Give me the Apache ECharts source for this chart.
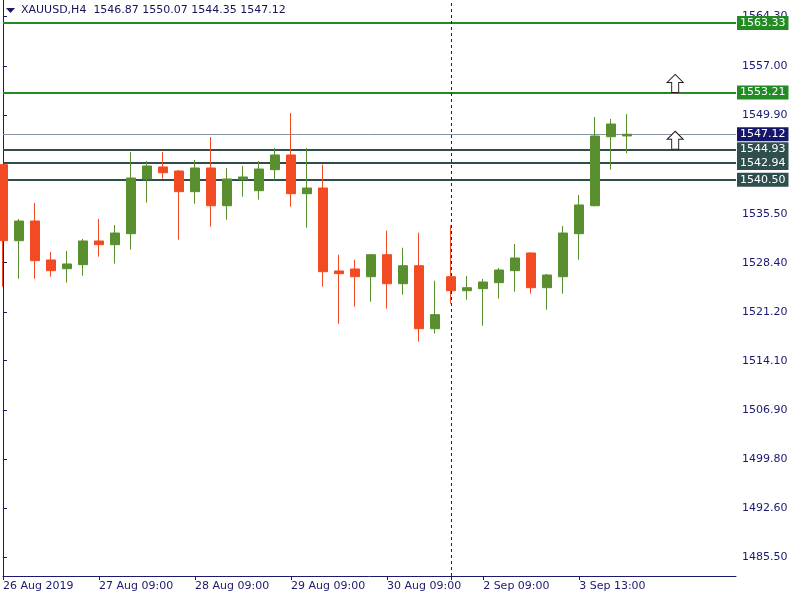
<!DOCTYPE html>
<html>
<head>
<meta charset="utf-8">
<script src="https://cdn.jsdelivr.net/npm/echarts@6/dist/echarts.min.js"></script>
<style>
  html, body { margin: 0; padding: 0; background: #ffffff; }
  #chart { width: 800px; height: 600px; }
</style>
</head>
<body>
<div id="chart"></div>
<script>
// ---- Data ----
const symbolName = 'XAUUSD,H4';
const opens  = [1542.68,1531.60,1534.47,1528.79,1527.52,1528.11,1531.56,1531.02,1532.62,1540.60,
                1542.35,1541.76,1538.75,1542.20,1536.70,1540.55,1538.89,1541.95,1544.10,1538.45,
                1539.28,1527.19,1527.48,1526.35,1529.56,1525.33,1527.96,1518.77,1526.35,1524.31,
                1524.61,1525.48,1527.23,1529.81,1524.75,1526.35,1532.62,1536.70,1546.76,1546.87];
const highs  = [1542.80,1534.77,1537.10,1529.96,1530.10,1531.85,1534.77,1533.89,1544.53,1543.22,
                1544.53,1541.90,1543.37,1546.72,1542.20,1542.49,1543.22,1545.12,1550.22,1545.12,
                1542.68,1529.56,1528.83,1529.60,1533.06,1530.58,1532.77,1525.77,1533.85,1526.46,
                1526.02,1527.62,1531.12,1529.90,1526.75,1533.75,1538.26,1549.63,1549.34,1550.07];
const lows   = [1524.90,1526.06,1526.06,1526.35,1525.48,1526.50,1529.27,1528.25,1530.29,1537.14,
                1540.64,1531.75,1537.00,1533.64,1534.66,1538.02,1537.58,1540.50,1536.56,1533.50,
                1524.90,1519.50,1521.98,1522.71,1521.69,1523.73,1516.88,1518.05,1522.42,1523.00,
                1519.21,1523.15,1524.17,1523.88,1521.54,1523.88,1528.83,1536.60,1541.95,1544.35];
const closes = [1531.60,1534.47,1528.69,1527.23,1528.21,1531.56,1531.02,1532.72,1540.74,1542.49,
                1541.51,1538.75,1542.20,1536.70,1540.60,1540.89,1542.05,1544.10,1538.45,1539.28,
                1527.08,1526.79,1526.35,1529.56,1525.33,1527.96,1518.77,1520.82,1524.31,1524.75,
                1525.58,1527.33,1529.08,1524.75,1526.60,1532.72,1536.81,1546.86,1548.61,1547.12];

const xTickIdx   = [0, 6, 12, 18, 24, 30, 36];
const xTickText  = ['26 Aug 2019', '27 Aug 09:00', '28 Aug 09:00', '29 Aug 09:00', '30 Aug 09:00', '2 Sep 09:00', '3 Sep 13:00'];
const vLineIdx   = 28;
const yTickValues = [1564.30, 1557.00, 1549.90, 1535.50, 1528.40, 1521.20, 1514.10, 1506.90, 1499.80, 1492.60, 1485.50];

const greenLevels = [1563.33, 1553.21];
const slateLevels = [1544.93, 1542.94, 1540.50];
const arrowIdx    = 42;
const arrowPrices = [1553.21, 1544.93];

const yMin = 1482.72, yMax = 1566.69;
const xMin = 0, xMax = 45.8;

// ---- Styles ----
const NAVY = '#191970';
const BULL = '#5a8f2f';
const BEAR = '#f24b23';
const FONT = 'DejaVu Sans';

const n = closes.length;
const candleData = [];
for (let i = 0; i < n; i++) candleData.push([i, opens[i], closes[i], lows[i], highs[i]]);
const lastClose = closes[n - 1];

function boxLabel(bg) {
  return {
    show: true, position: 'end', distance: 1,
    formatter: p => Number(p.value).toFixed(2),
    color: '#ffffff', backgroundColor: bg,
    fontFamily: FONT, fontSize: 11, lineHeight: 12,
    padding: [1, 3, 1, 3]
  };
}

const markLineData = [];
greenLevels.forEach(v => markLineData.push({ yAxis: v, lineStyle: { color: '#238b23', width: 2, type: 'solid' }, label: boxLabel('#238b23') }));
markLineData.push({ yAxis: lastClose, lineStyle: { color: '#8894a0', width: 1, type: 'solid' }, label: boxLabel('#15156a') });
slateLevels.forEach(v => markLineData.push({ yAxis: v, lineStyle: { color: '#2f4f4f', width: 2, type: 'solid' }, label: boxLabel('#2f4f4f') }));
markLineData.push({ xAxis: vLineIdx, lineStyle: { color: NAVY, width: 1, type: [3, 3] }, label: { show: false } });

const chart = echarts.init(document.getElementById('chart'), null, { renderer: 'canvas' });
chart.setOption({
  animation: false,
  backgroundColor: '#ffffff',
  grid: { left: 3, right: 64, top: 0, bottom: 24, containLabel: false },
  xAxis: {
    type: 'value', min: xMin, max: xMax,
    splitLine: { show: false },
    axisLine: { show: true, lineStyle: { color: NAVY, width: 1 } },
    axisTick: { show: true, length: 4, inside: false, lineStyle: { color: NAVY }, customValues: xTickIdx.concat([vLineIdx]) },
    axisLabel: {
      show: true, customValues: xTickIdx, align: 'left', margin: 5,
      color: NAVY, fontFamily: FONT, fontSize: 11,
      formatter: v => { const k = xTickIdx.indexOf(Math.round(v)); return k >= 0 ? xTickText[k] : ''; }
    }
  },
  yAxis: [{
    type: 'value', position: 'right', min: yMin, max: yMax, scale: true,
    splitLine: { show: false },
    axisLine: { show: true, lineStyle: { color: NAVY, width: 1 } },
    axisTick: { show: true, length: 4, inside: false, lineStyle: { color: NAVY }, customValues: yTickValues },
    axisLabel: {
      show: true, customValues: yTickValues, margin: 6, align: 'left',
      color: NAVY, fontFamily: FONT, fontSize: 11,
      formatter: v => Number(v).toFixed(2)
    }
  }, {
    type: 'value', position: 'left', min: yMin, max: yMax, scale: true,
    splitLine: { show: false },
    axisLine: { show: true, lineStyle: { color: NAVY, width: 1 } },
    axisTick: { show: false }, axisLabel: { show: false }
  }],
  series: [{
    type: 'candlestick',
    yAxisIndex: 0,
    z: 3,
    barWidth: 10,
    encode: { x: 0, y: [1, 2, 3, 4] },
    data: candleData,
    itemStyle: { color: BULL, color0: BEAR, borderColor: BULL, borderColor0: BEAR, borderWidth: 1 },
    markLine: {
      z: 1,
      silent: true,
      symbol: ['none', 'none'],
      animation: false,
      data: markLineData
    },
    markPoint: {
      z: 6,
      silent: true,
      animation: false,
      symbol: 'path://M8,0 L16,8 L11.5,8 L11.5,18 L4.5,18 L4.5,8 L0,8 Z',
      symbolSize: [16, 18],
      symbolOffset: [0, '-50%'],
      itemStyle: { color: '#ffffff', borderColor: '#2a1a1a', borderWidth: 1 },
      label: { show: false },
      data: arrowPrices.map(p => ({ coord: [arrowIdx, p] }))
    }
  }],
  graphic: [
    { type: 'polygon', shape: { points: [[6, 8], [15, 8], [10.5, 13]] }, style: { fill: NAVY }, z: 10 },
    { type: 'text', left: 21, top: 5, z: 10,
      style: { text: symbolName + '  ' + [opens[n-1], highs[n-1], lows[n-1], closes[n-1]].map(v => v.toFixed(2)).join(' '),
               fill: '#14145a', font: '11px "DejaVu Sans"' } }
  ]
});
</script>
</body>
</html>
